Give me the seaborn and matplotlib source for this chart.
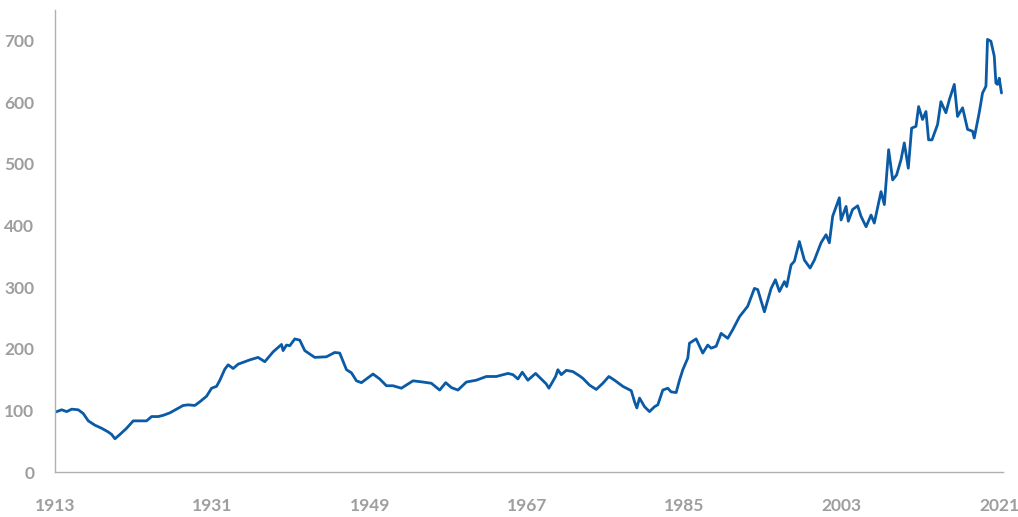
import matplotlib
matplotlib.use('Agg')
import matplotlib.pyplot as plt
import pandas as pd
import seaborn as sns

# Valores (anio decimal, indice)
anios = [
    1913.0, 1913.77, 1914.34, 1914.91, 1915.66, 1916.23, 1916.81, 1917.57, 1918.34, 1919.09,
    1919.48, 1919.86, 1920.43, 1921.19, 1921.95, 1922.71, 1923.48, 1924.05, 1924.81, 1925.38,
    1926.14, 1926.91, 1927.66, 1928.23, 1929.0, 1929.57, 1930.34, 1930.91, 1931.48, 1931.86,
    1932.43, 1932.81, 1933.38, 1933.95, 1934.52, 1935.29, 1936.23, 1937.0, 1937.95, 1938.91,
    1939.09, 1939.48, 1939.86, 1940.43, 1941.0, 1941.57, 1942.71, 1944.05, 1945.0, 1945.57,
    1946.34, 1946.91, 1947.48, 1948.05, 1949.38, 1950.14, 1950.91, 1951.66, 1952.62, 1953.95,
    1955.09, 1956.05, 1957.0, 1957.69, 1958.34, 1959.09, 1960.05, 1961.19, 1962.34, 1963.48,
    1964.81, 1965.38, 1965.95, 1966.45, 1967.09, 1967.97, 1968.62, 1969.19, 1969.49, 1969.77,
    1970.26, 1970.52, 1970.91, 1971.48, 1972.23, 1973.0, 1973.38, 1974.14, 1974.91, 1975.66,
    1976.35, 1977.0, 1977.95, 1978.91, 1979.29, 1979.55, 1979.86, 1980.43, 1981.0, 1981.57,
    1981.95, 1982.52, 1983.09, 1983.48, 1984.05, 1984.43, 1984.81, 1985.38, 1985.57, 1986.33,
    1987.09, 1987.66, 1988.05, 1988.62, 1989.19, 1989.95, 1990.52, 1991.29, 1992.23, 1993.0,
    1993.38, 1994.14, 1994.91, 1995.4, 1995.86, 1996.43, 1996.69, 1997.19, 1997.57, 1998.14,
    1998.71, 1999.37, 1999.86, 2000.62, 2001.19, 2001.57, 2001.95, 2002.71, 2002.91, 2003.48,
    2003.74, 2004.23, 2004.81, 2005.19, 2005.77, 2006.34, 2006.71, 2007.48, 2007.86, 2008.35,
    2008.81, 2009.26, 2009.77, 2010.14, 2010.6, 2010.98, 2011.48, 2011.78, 2012.23, 2012.62,
    2012.92, 2013.31, 2013.95, 2014.33, 2014.9, 2015.29, 2015.86, 2016.23, 2016.81, 2017.38,
    2017.95, 2018.14, 2018.71, 2019.09, 2019.48, 2019.66, 2020.05, 2020.43, 2020.62, 2020.81,
    2021.0, 2021.26,
]
valores = [
    97, 101, 98, 102, 101, 95, 83, 76, 71, 65,
    61, 54, 61, 71, 83, 83, 83, 90, 90, 92,
    96, 102, 108, 109, 108, 114, 123, 136, 139, 149,
    167, 174, 168, 175, 178, 182, 186, 179, 195, 207,
    197, 206, 205, 216, 214, 197, 186, 187, 194, 193,
    166, 161, 148, 145, 159, 151, 140, 140, 136, 148,
    146, 144, 133, 145, 137, 133, 146, 149, 155, 155,
    160, 158, 151, 162, 149, 160, 151, 143, 136, 143,
    155, 166, 158, 165, 163, 156, 152, 141, 134, 144,
    155, 149, 139, 132, 114, 104, 120, 106, 98, 106,
    109, 133, 136, 130, 129, 149, 166, 185, 209, 216,
    193, 206, 201, 204, 225, 217, 231, 252, 269, 298,
    296, 260, 298, 312, 293, 309, 301, 336, 342, 374,
    344, 331, 344, 372, 385, 372, 415, 445, 409, 431,
    407, 426, 432, 415, 398, 417, 404, 455, 434, 523,
    474, 482, 507, 534, 493, 558, 561, 593, 572, 585,
    539, 539, 564, 601, 583, 604, 629, 577, 591, 556,
    553, 542, 583, 615, 626, 702, 699, 675, 631, 629,
    639, 615,
]

ticks_x = [1913, 1931, 1949, 1967, 1985, 2003, 2021]
ticks_y = [0, 100, 200, 300, 400, 500, 600, 700]

df = pd.DataFrame({'anio': anios, 'valor': valores})

sns.set_style('white')
plt.rcParams['font.family'] = ['Lato', 'DejaVu Sans']

fig = plt.figure(figsize=(10.18, 5.17), dpi=100)
ax = fig.add_axes([0.054, 0.087, 0.931, 0.894])

sns.lineplot(data=df, x='anio', y='valor', ax=ax, color='#0a5aa6', linewidth=2.0)

ax.set_xlim(1913, 2021.4)
ax.set_ylim(0, 750)
ax.set_xticks(ticks_x)
ax.set_xticklabels([str(t) for t in ticks_x])
ax.set_yticks(ticks_y)
ax.set_xlabel('')
ax.set_ylabel('')

gris = '#9e9e9e'
ax.tick_params(axis='both', length=0, labelsize=12.5, labelcolor=gris)
ax.tick_params(axis='x', pad=19)
ax.tick_params(axis='y', pad=15)
for lbl in ax.get_xticklabels() + ax.get_yticklabels():
    lbl.set_fontweight('bold')

sns.despine(ax=ax)
for lado in ['left', 'bottom']:
    ax.spines[lado].set_color('#b0b0b0')
    ax.spines[lado].set_linewidth(1.0)

fig.savefig('out.png', dpi=100)
